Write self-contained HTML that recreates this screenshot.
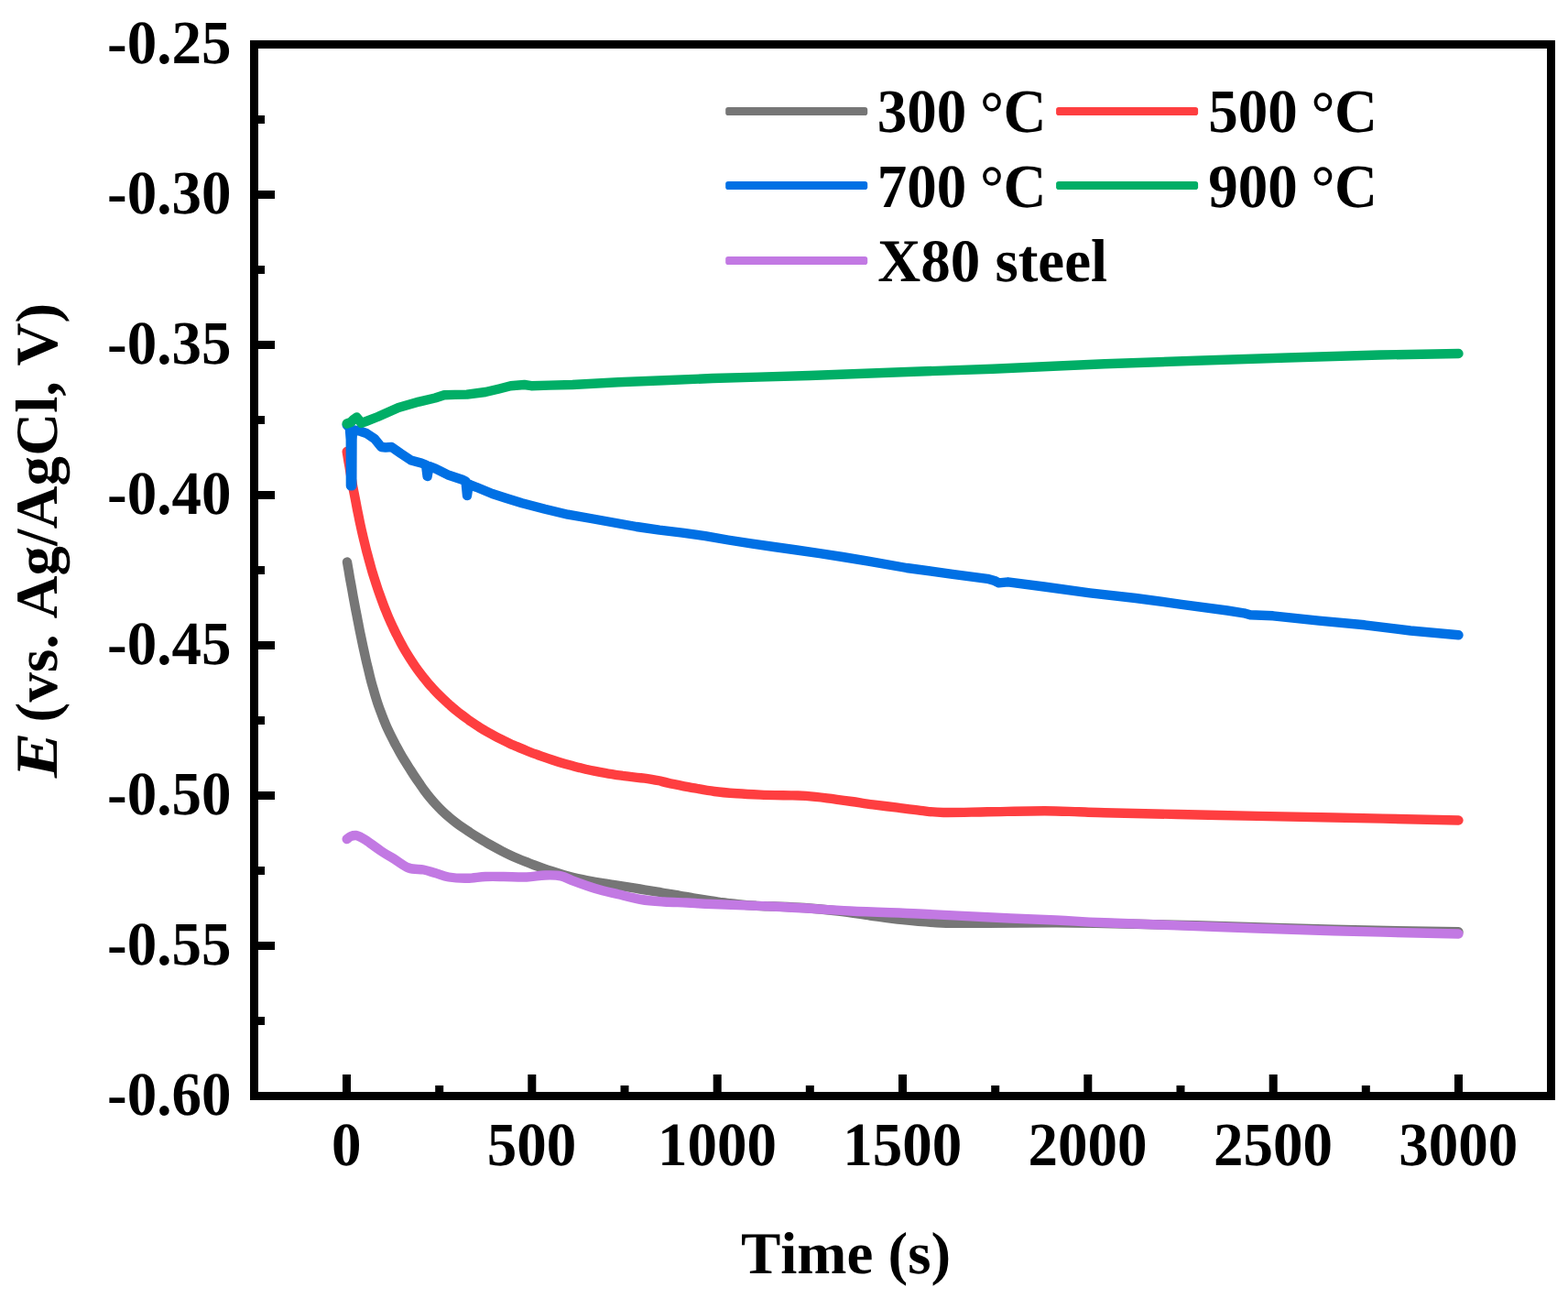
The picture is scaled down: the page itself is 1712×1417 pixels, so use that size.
<!DOCTYPE html>
<html lang="en"><head><meta charset="utf-8"><title>OCP vs. time</title>
<style>html,body{margin:0;padding:0;background:#fff;}body{width:1712px;height:1417px;overflow:hidden;}svg{display:block;}text{font-family:"Liberation Serif","DejaVu Serif",serif;font-weight:bold;font-size:65px;fill:#000;font-kerning:none;font-variant-ligatures:none;text-rendering:geometricPrecision;}</style></head><body>
<svg width="1712" height="1417" viewBox="0 0 1712 1417">
<rect x="0" y="0" width="1712" height="1417" fill="#fff"/>
<g fill="none" stroke-width="10.4" stroke-linecap="round" stroke-linejoin="round">
<path stroke="#767676" d="M379.0 613.5 C379.3 615.1 380.1 619.9 380.7 623.1 C381.2 626.3 381.7 629.5 382.3 632.7 C382.9 635.9 383.5 639.2 384.1 642.4 C384.7 645.6 385.2 648.9 385.8 652.1 C386.4 655.3 387.0 658.5 387.6 661.8 C388.2 665.0 388.9 668.4 389.5 671.6 C390.1 674.9 390.8 678.1 391.4 681.3 C392.0 684.5 392.6 687.8 393.3 691.0 C394.0 694.2 394.6 697.5 395.3 700.7 C396.0 703.9 396.7 707.2 397.4 710.4 C398.1 713.6 398.8 716.8 399.5 720.0 C400.2 723.2 401.0 726.4 401.8 729.6 C402.6 732.8 403.3 736.0 404.1 739.2 C404.9 742.4 405.7 745.5 406.6 748.6 C407.5 751.7 408.4 754.9 409.3 758.0 C410.2 761.1 411.2 764.3 412.2 767.4 C413.2 770.5 414.4 773.5 415.5 776.6 C416.6 779.7 417.8 782.7 419.0 785.7 C420.2 788.7 421.4 791.8 422.8 794.8 C424.2 797.8 425.6 800.8 427.1 803.7 C428.6 806.7 430.1 809.6 431.6 812.5 C433.2 815.4 434.8 818.3 436.4 821.2 C438.0 824.1 439.7 827.0 441.4 829.8 C443.1 832.6 444.9 835.4 446.7 838.2 C448.5 841.0 450.2 843.8 452.0 846.5 C453.8 849.2 455.6 851.9 457.5 854.6 C459.4 857.3 461.2 860.0 463.1 862.6 C465.0 865.2 467.0 867.8 469.1 870.3 C471.2 872.8 473.3 875.3 475.5 877.7 C477.7 880.1 480.1 882.6 482.5 884.9 C484.9 887.2 487.3 889.5 489.8 891.6 C492.3 893.8 494.9 895.8 497.5 897.8 C500.1 899.8 502.7 901.7 505.4 903.6 C508.1 905.5 510.8 907.2 513.5 909.0 C516.2 910.8 519.0 912.5 521.8 914.2 C524.6 915.9 527.4 917.6 530.2 919.2 C533.0 920.9 535.9 922.5 538.8 924.1 C541.7 925.7 544.6 927.3 547.5 928.8 C550.4 930.3 553.3 931.8 556.3 933.2 C559.3 934.6 562.3 935.9 565.3 937.2 C568.3 938.5 571.3 939.7 574.4 940.9 C577.5 942.1 580.5 943.4 583.6 944.5 C586.7 945.6 589.8 946.7 592.9 947.8 C596.0 948.9 599.2 950.0 602.3 951.0 C605.4 952.0 608.5 953.0 611.7 954.0 C614.9 955.0 618.1 955.9 621.3 956.8 C624.5 957.7 627.6 958.5 630.8 959.2 C634.0 959.9 637.3 960.6 640.5 961.2 C643.7 961.8 646.9 962.4 650.1 962.9 C653.3 963.4 656.6 963.9 659.8 964.4 C663.0 964.9 666.3 965.3 669.5 965.8 C672.7 966.3 676.0 966.8 679.2 967.3 C682.4 967.8 685.7 968.4 688.9 968.9 C692.1 969.4 695.4 970.0 698.6 970.5 C701.8 971.0 705.1 971.6 708.3 972.1 C711.5 972.6 714.8 973.2 718.0 973.7 C721.2 974.2 724.5 974.9 727.7 975.4 C730.9 975.9 734.2 976.5 737.4 977.0 C740.6 977.5 743.9 978.2 747.1 978.7 C750.4 979.2 753.6 979.8 756.9 980.3 C760.1 980.8 763.4 981.4 766.6 981.9 C769.8 982.4 773.0 982.9 776.3 983.4 C779.5 983.9 782.8 984.3 786.1 984.8 C789.4 985.2 792.6 985.7 795.9 986.1 C799.2 986.5 802.4 986.9 805.7 987.2 C809.0 987.5 812.2 987.8 815.5 988.1 C818.8 988.4 822.0 988.6 825.3 988.8 C828.6 989.0 831.8 989.2 835.1 989.3 C838.4 989.4 837.9 989.2 845.0 989.5 C852.1 989.8 866.3 990.2 878.0 991.0 C889.7 991.8 903.0 993.1 915.0 994.5 C927.0 995.9 939.5 998.0 950.0 999.5 C960.5 1001.0 965.0 1002.0 978.0 1003.3 C991.0 1004.6 1011.3 1006.8 1028.0 1007.5 C1044.7 1008.2 1057.2 1007.8 1078.0 1007.8 C1098.8 1007.8 1131.7 1007.3 1153.0 1007.3 C1174.3 1007.3 1180.5 1007.5 1206.0 1008.0 C1231.5 1008.5 1264.3 1009.2 1306.0 1010.3 C1347.7 1011.4 1408.2 1013.6 1456.0 1014.8 C1503.8 1016.0 1569.8 1016.9 1592.5 1017.3"/>
<path stroke="#FE3E40" d="M378.7 493.0 C378.9 494.3 379.6 498.3 380.0 500.9 C380.4 503.5 380.9 506.2 381.4 508.8 C381.8 511.4 382.2 514.1 382.7 516.7 C383.1 519.3 383.6 522.0 384.1 524.6 C384.6 527.2 385.0 529.9 385.5 532.5 C386.0 535.1 386.5 537.7 387.0 540.3 C387.5 542.9 388.0 545.5 388.5 548.1 C389.0 550.7 389.5 553.4 390.0 556.0 C390.5 558.6 391.1 561.2 391.6 563.8 C392.1 566.4 392.6 569.0 393.2 571.6 C393.8 574.2 394.3 576.8 394.9 579.4 C395.5 582.0 396.1 584.5 396.7 587.1 C397.3 589.7 398.0 592.3 398.6 594.9 C399.2 597.5 399.8 600.0 400.5 602.6 C401.2 605.2 401.9 607.7 402.6 610.3 C403.3 612.9 404.0 615.4 404.7 618.0 C405.4 620.6 406.1 623.2 406.9 625.7 C407.7 628.2 408.5 630.8 409.3 633.3 C410.1 635.8 411.0 638.5 411.8 641.0 C412.6 643.5 413.5 646.1 414.4 648.6 C415.3 651.1 416.2 653.6 417.1 656.1 C418.0 658.6 419.0 661.2 420.0 663.7 C421.0 666.2 422.0 668.6 423.0 671.1 C424.0 673.6 425.1 676.0 426.2 678.5 C427.3 681.0 428.5 683.4 429.6 685.8 C430.8 688.2 431.9 690.6 433.1 693.0 C434.3 695.4 435.6 697.8 436.8 700.2 C438.1 702.6 439.3 704.9 440.6 707.2 C441.9 709.5 443.3 711.8 444.7 714.1 C446.1 716.4 447.5 718.6 448.9 720.8 C450.3 723.0 451.8 725.2 453.3 727.4 C454.8 729.6 456.4 731.8 458.0 733.9 C459.6 736.0 461.2 738.1 462.9 740.2 C464.5 742.3 466.2 744.3 467.9 746.3 C469.6 748.3 471.4 750.2 473.2 752.2 C475.0 754.2 476.8 756.1 478.7 758.0 C480.6 759.9 482.5 761.8 484.4 763.6 C486.3 765.4 488.2 767.1 490.2 768.9 C492.2 770.6 494.2 772.4 496.3 774.1 C498.4 775.8 500.4 777.5 502.5 779.1 C504.6 780.7 506.8 782.3 508.9 783.9 C511.0 785.5 513.2 787.0 515.4 788.5 C517.6 790.0 519.8 791.5 522.0 792.9 C524.2 794.3 526.5 795.8 528.8 797.1 C531.1 798.5 533.4 799.7 535.7 801.0 C538.0 802.3 540.3 803.6 542.7 804.8 C545.1 806.0 547.5 807.2 549.9 808.4 C552.3 809.6 554.7 810.8 557.1 811.9 C559.5 813.0 562.0 814.0 564.4 815.1 C566.8 816.2 569.3 817.2 571.8 818.2 C574.3 819.2 576.7 820.2 579.2 821.2 C581.7 822.2 584.3 823.1 586.8 824.0 C589.3 824.9 591.8 825.8 594.3 826.7 C596.8 827.6 599.5 828.5 602.0 829.3 C604.5 830.1 607.1 830.9 609.6 831.7 C612.1 832.5 614.7 833.3 617.3 834.0 C619.9 834.7 622.5 835.4 625.1 836.1 C627.7 836.8 630.2 837.5 632.8 838.1 C635.4 838.8 638.1 839.4 640.7 840.0 C643.3 840.6 645.9 841.2 648.5 841.7 C651.1 842.2 653.7 842.7 656.3 843.2 C658.9 843.7 661.6 844.2 664.2 844.6 C666.8 845.0 669.5 845.4 672.1 845.8 C674.7 846.2 677.4 846.5 680.0 846.9 C682.6 847.2 685.3 847.6 687.9 847.9 C690.5 848.2 693.2 848.5 695.8 848.8 C698.4 849.1 701.1 849.4 703.7 849.7 C706.3 850.0 709.0 850.4 711.6 850.8 C714.2 851.2 716.4 851.6 719.5 852.3 C722.6 853.0 724.1 853.5 730.0 854.8 C735.9 856.0 746.7 858.3 755.0 859.8 C763.3 861.3 771.7 862.9 780.0 864.0 C788.3 865.1 796.7 865.7 805.0 866.3 C813.3 866.9 819.9 867.2 830.0 867.6 C840.1 868.0 857.2 868.2 865.5 868.4 C873.8 868.6 873.8 868.4 880.0 868.9 C886.2 869.4 894.7 870.3 903.0 871.3 C911.3 872.3 921.7 873.8 930.0 875.0 C938.3 876.2 944.7 877.3 953.0 878.4 C961.3 879.5 971.3 880.6 980.0 881.7 C988.7 882.8 996.7 883.9 1005.0 884.8 C1013.3 885.7 1017.8 886.8 1030.0 887.0 C1042.2 887.2 1059.6 886.6 1078.0 886.3 C1096.4 886.0 1123.8 885.2 1140.5 885.2 C1157.2 885.2 1167.1 886.0 1178.0 886.3 C1188.9 886.6 1180.5 886.6 1206.0 887.2 C1231.5 887.8 1289.3 889.1 1331.0 890.0 C1372.7 890.9 1412.4 891.6 1456.0 892.5 C1499.6 893.4 1569.8 895.0 1592.5 895.5"/>
<path stroke="#0070E4" d="M378.7 464.0 L381.8 467.0 L382.8 480.0 L382.9 530.3 L384.3 530.3 L384.5 480.0 L385.0 470.0  L387.5 469.5 L394.0 471.0 L400.0 473.0 L408.8 478.8 L416.3 488.0 L421.0 488.5 L427.5 488.0 L437.5 495.0 L448.8 502.5 L460.0 505.5 L465.0 507.5 L466.6 520.0 L468.5 509.0 L475.0 511.3 L490.0 518.8 L505.0 523.8 L508.5 525.5 L510.0 541.0 L511.8 528.5 L515.0 530.0 L520.0 531.8 L537.5 539.0 L553.0 544.0 L570.0 549.2 L595.0 555.8 L620.0 561.7 L645.0 566.0 L670.0 570.5 L695.0 575.0 L720.0 578.7 L745.0 581.6 L770.0 585.2 L795.0 589.5 L820.0 593.3 L845.0 597.0 L870.0 600.5 L895.0 604.2 L920.0 608.0 L948.0 612.7 L990.0 620.0 L1040.0 626.8 L1078.0 631.8 L1086.0 634.0 L1090.5 636.3 L1100.5 635.3 L1140.0 640.5 L1190.0 647.3 L1240.0 653.0 L1290.0 659.8 L1340.0 666.5 L1358.0 669.3 L1365.0 671.3 L1390.0 672.3 L1440.0 677.7 L1490.0 682.3 L1540.0 688.5 L1592.5 693.3"/>
<path stroke="#00AE66" d="M378.7 462.5 L383.0 461.0 L386.0 458.0 L389.5 455.5 L392.0 458.5 L394.5 462.0 L400.0 459.8 L412.5 455.0 L435.0 445.0 L457.5 438.6 L475.0 434.5 L485.0 431.3 L497.0 430.9 L510.0 430.6 L530.0 428.0 L545.0 424.5 L557.5 421.3 L572.5 420.0 L580.0 421.2 L600.0 420.6 L625.0 420.0 L675.0 417.3 L725.0 415.3 L778.0 413.0 L828.0 411.6 L884.0 410.0 L984.0 406.3 L1084.0 402.7 L1150.0 399.8 L1206.0 397.3 L1306.0 393.8 L1406.0 390.5 L1506.0 387.5 L1592.5 386.0"/>
<path stroke="#C279E3" d="M378.7 916.0 C379.4 915.5 381.3 913.7 383.0 913.0 C384.7 912.3 387.0 911.8 388.8 912.0 C390.6 912.2 392.1 913.1 394.0 914.0 C395.9 914.9 396.1 914.8 400.0 917.5 C403.9 920.2 412.5 926.7 417.5 930.0 C422.5 933.3 425.2 934.6 430.0 937.5 C434.8 940.4 440.9 945.5 446.3 947.5 C451.7 949.5 457.7 948.6 462.5 949.5 C467.3 950.4 470.4 951.7 475.0 953.0 C479.6 954.3 484.2 956.5 490.0 957.5 C495.8 958.5 503.3 958.9 510.0 958.8 C516.7 958.7 523.3 957.3 530.0 957.0 C536.7 956.7 542.5 956.9 550.0 957.0 C557.5 957.1 567.5 957.8 575.0 957.5 C582.5 957.2 588.8 955.7 595.0 955.5 C601.2 955.3 607.5 955.3 612.5 956.3 C617.5 957.3 618.8 959.0 625.0 961.3 C631.2 963.6 641.7 967.5 650.0 970.0 C658.3 972.5 666.7 974.3 675.0 976.3 C683.3 978.3 691.7 980.6 700.0 982.0 C708.3 983.4 716.7 983.9 725.0 984.5 C733.3 985.1 741.2 985.1 750.0 985.5 C758.8 985.9 760.8 986.2 778.0 987.0 C795.2 987.8 828.0 988.8 853.0 990.0 C878.0 991.2 903.0 993.2 928.0 994.5 C953.0 995.8 978.0 996.4 1003.0 997.5 C1028.0 998.6 1053.0 1000.1 1078.0 1001.3 C1103.0 1002.5 1131.7 1003.5 1153.0 1004.5 C1174.3 1005.5 1176.3 1006.0 1206.0 1007.3 C1235.7 1008.5 1289.3 1010.5 1331.0 1012.0 C1372.7 1013.5 1412.4 1015.0 1456.0 1016.3 C1499.6 1017.5 1569.8 1019.0 1592.5 1019.5"/>
</g>
<g fill="#000">
<path fill-rule="evenodd" d="M273 44H1698V1201H273Z M282 53V1192H1689V53Z"/>
<rect x="281" y="208.0" width="19" height="9"/>
<rect x="281" y="372.0" width="19" height="9"/>
<rect x="281" y="536.0" width="19" height="9"/>
<rect x="281" y="700.0" width="19" height="9"/>
<rect x="281" y="864.0" width="19" height="9"/>
<rect x="281" y="1028.0" width="19" height="9"/>
<rect x="281" y="126.0" width="8" height="9"/>
<rect x="281" y="290.0" width="8" height="9"/>
<rect x="281" y="454.0" width="8" height="9"/>
<rect x="281" y="618.0" width="8" height="9"/>
<rect x="281" y="782.0" width="8" height="9"/>
<rect x="281" y="946.0" width="8" height="9"/>
<rect x="281" y="1110.0" width="8" height="9"/>
<rect x="374.0" y="1173" width="9" height="19"/>
<rect x="576.3" y="1173" width="9" height="19"/>
<rect x="778.7" y="1173" width="9" height="19"/>
<rect x="981.0" y="1173" width="9" height="19"/>
<rect x="1183.3" y="1173" width="9" height="19"/>
<rect x="1385.7" y="1173" width="9" height="19"/>
<rect x="1588.0" y="1173" width="9" height="19"/>
<rect x="475.2" y="1185" width="9" height="7"/>
<rect x="677.5" y="1185" width="9" height="7"/>
<rect x="879.8" y="1185" width="9" height="7"/>
<rect x="1082.2" y="1185" width="9" height="7"/>
<rect x="1284.5" y="1185" width="9" height="7"/>
<rect x="1486.8" y="1185" width="9" height="7"/>
</g>
<text transform="translate(252.5 69.2) scale(1 1.035)" text-anchor="end">-0.25</text>
<text transform="translate(252.5 233.2) scale(1 1.035)" text-anchor="end">-0.30</text>
<text transform="translate(252.5 397.2) scale(1 1.035)" text-anchor="end">-0.35</text>
<text transform="translate(252.5 561.2) scale(1 1.035)" text-anchor="end">-0.40</text>
<text transform="translate(252.5 725.2) scale(1 1.035)" text-anchor="end">-0.45</text>
<text transform="translate(252.5 889.2) scale(1 1.035)" text-anchor="end">-0.50</text>
<text transform="translate(252.5 1053.2) scale(1 1.035)" text-anchor="end">-0.55</text>
<text transform="translate(252.5 1217.2) scale(1 1.035)" text-anchor="end">-0.60</text>
<text transform="translate(378.3 1272.3) scale(1 1.035)" text-anchor="middle">0</text>
<text transform="translate(580.6 1272.3) scale(1 1.035)" text-anchor="middle">500</text>
<text transform="translate(783.0 1272.3) scale(1 1.035)" text-anchor="middle">1000</text>
<text transform="translate(985.3 1272.3) scale(1 1.035)" text-anchor="middle">1500</text>
<text transform="translate(1187.6 1272.3) scale(1 1.035)" text-anchor="middle">2000</text>
<text transform="translate(1390.0 1272.3) scale(1 1.035)" text-anchor="middle">2500</text>
<text transform="translate(1592.3 1272.3) scale(1 1.035)" text-anchor="middle">3000</text>
<text x="923.5" y="1390" text-anchor="middle">Time (s)</text>
<text transform="translate(62 849.3) rotate(-90)" letter-spacing="0.17"><tspan font-style="italic" letter-spacing="0" textLength="49.7" lengthAdjust="spacingAndGlyphs">E</tspan><tspan dx="-5.2"> (vs. Ag/AgCl, V)</tspan></text>
<rect x="792.2" y="117.0" width="155" height="9" rx="2.8" fill="#767676"/>
<rect x="1153.1" y="117.0" width="155" height="9" rx="2.8" fill="#FE3E40"/>
<rect x="792.2" y="198.0" width="155" height="9" rx="2.8" fill="#0070E4"/>
<rect x="1153.1" y="198.0" width="155" height="9" rx="2.8" fill="#00AE66"/>
<rect x="792.2" y="280.0" width="155" height="9" rx="2.8" fill="#C279E3"/>
<text transform="translate(957.8 144.4) scale(1 1.035)">300<tspan dx="-1.5" dy="1.4"> °</tspan><tspan dx="-0.5" dy="-1.4">C</tspan></text>
<text transform="translate(1319.3 144.4) scale(1 1.035)">500<tspan dx="-1.5" dy="1.4"> °</tspan><tspan dx="-0.5" dy="-1.4">C</tspan></text>
<text transform="translate(957.8 225.7) scale(1 1.035)">700<tspan dx="-1.5" dy="1.4"> °</tspan><tspan dx="-0.5" dy="-1.4">C</tspan></text>
<text transform="translate(1319.3 225.7) scale(1 1.035)">900<tspan dx="-1.5" dy="1.4"> °</tspan><tspan dx="-0.5" dy="-1.4">C</tspan></text>
<text transform="translate(958.2 307.3) scale(1 1.02)">X80 steel</text>
</svg></body></html>
